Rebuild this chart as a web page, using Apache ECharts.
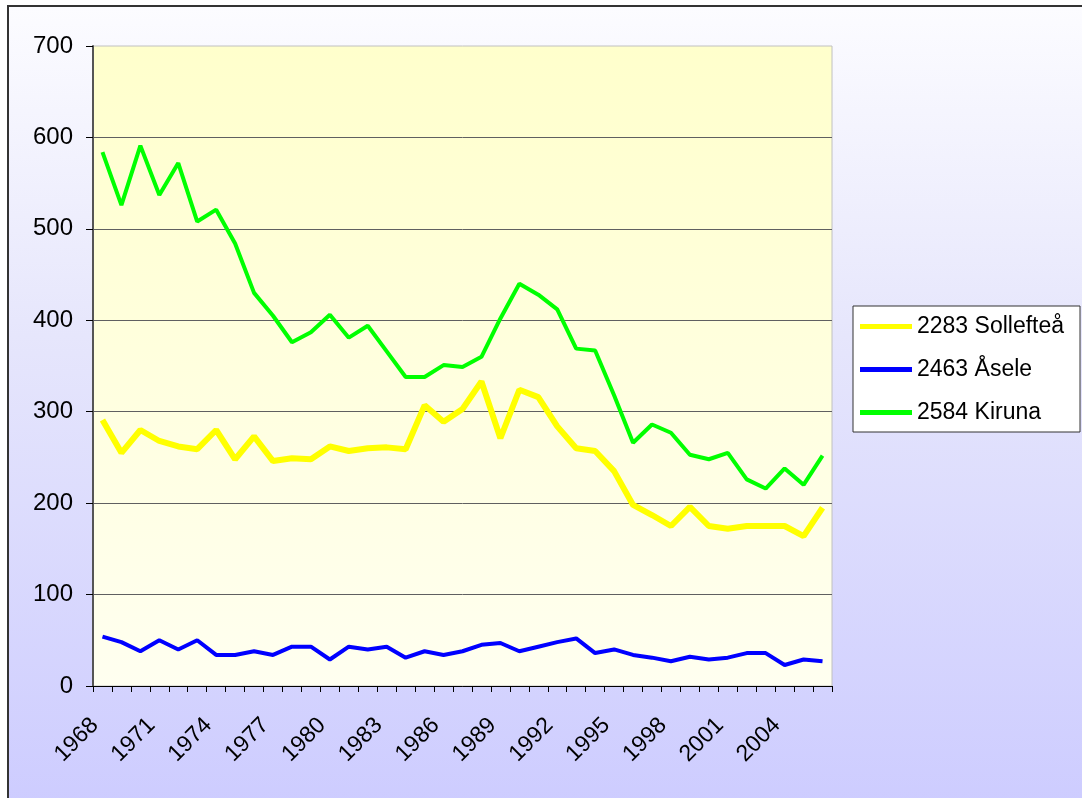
<!DOCTYPE html>
<html>
<head>
<meta charset="utf-8">
<script src="https://cdn.jsdelivr.net/npm/echarts@6/dist/echarts.min.js"></script>
<style>
html,body{margin:0;padding:0;background:#fff;}
#wrap{position:relative;width:1082px;height:798px;overflow:hidden;background:#fff;}
#frame{position:absolute;left:7px;top:5px;width:1100px;height:820px;border-left:2px solid #333;border-top:2px solid #333;
background:linear-gradient(to bottom,#fcfcff 0%,#e6e6fc 40%,#cccbff 100%);}
#chart{position:absolute;left:0;top:0;width:1082px;height:798px;}
</style>
</head>
<body>
<div id="wrap"><div id="frame"></div><div id="chart"></div></div>
<script>
const years = [];
for (let y = 1968; y <= 2006; y++) years.push(String(y));

const seriesNames = ['2283 Sollefteå', '2463 Åsele', '2584 Kiruna'];

const solleftea = [291,255,280,268,262,259,280,248,273,246,
                   249,248,262,257,260,261,259,307,289,303,
                   333,271,324,316,284,260,257,235,198,187,
                   175,196,175,172,175,175,175,164,195];

const asele = [54,48,38,50,40,50,34,34,38,34,
               43,43,29,43,40,43,31,38,34,38,
               45,47,38,43,48,52,36,40,34,31,
               27,32,29,31,36,36,23,29,27];

const kiruna = [584,526,591,537,572,508,521,484,430,405,
                376,387,406,381,394,366,338,338,351,349,
                360,402,440,428,412,369,367,318,266,286,
                277,253,248,255,226,216,238,220,252];

const yTicks = [0,100,200,300,400,500,600,700];

const chart = echarts.init(document.getElementById('chart'), null, {renderer:'canvas'});
const font = 'Arial, "Liberation Sans", sans-serif';
chart.setOption({
  backgroundColor: 'transparent',
  animation: false,
  textStyle: {fontFamily: font},
  grid: {
    left: 93, right: 250, top: 46, bottom: 112,
    show: true,
    borderColor: '#c0c0c0', borderWidth: 1,
    backgroundColor: {type:'linear', x:0, y:0, x2:0, y2:1,
      colorStops:[{offset:0,color:'#ffffcc'},{offset:1,color:'#fffff0'}]}
  },
  legend: {
    orient: 'vertical',
    left: 853, top: 306,
    backgroundColor: '#ffffff',
    borderColor: '#333333', borderWidth: 1,
    padding: [9, 10, 8, 7],
    itemWidth: 52, itemHeight: 5, itemGap: 20,
    icon: 'rect',
    textStyle: {fontFamily: font, fontSize: 23, color: '#000', lineHeight: 22, width: 153},
    data: seriesNames
  },
  xAxis: {
    type: 'category',
    data: years,
    boundaryGap: true,
    axisLine: {show: true, lineStyle: {color: '#000', width: 1}},
    axisTick: {show: true, interval: 0, length: 6, lineStyle: {color: '#000'}},
    axisLabel: {interval: 2, rotate: 45, margin: 28, padding: [0, 11, 0, 0],
                fontSize: 23, color: '#000', fontFamily: font},
    splitLine: {show: false}
  },
  yAxis: {
    type: 'value',
    min: yTicks[0], max: yTicks[yTicks.length-1], interval: 100,
    axisLine: {show: true, lineStyle: {color: '#555', width: 2}},
    axisTick: {show: true, length: 7, lineStyle: {color: '#000'}},
    axisLabel: {margin: 20, fontSize: 24, color: '#000', fontFamily: font},
    splitLine: {show: true, showMaxLine: false, lineStyle: {color: '#606060', width: 1}}
  },
  series: [
    {name: seriesNames[0], type: 'line', data: solleftea, symbol: 'none', color: '#ffff00',
     lineStyle: {color: '#ffff00', width: 6}, z: 2},
    {name: seriesNames[1], type: 'line', data: asele, symbol: 'none', color: '#0000ff',
     lineStyle: {color: '#0000ff', width: 4}, z: 3},
    {name: seriesNames[2], type: 'line', data: kiruna, symbol: 'none', color: '#00ff00',
     lineStyle: {color: '#00ff00', width: 4}, z: 4}
  ]
});
</script>
</body>
</html>
